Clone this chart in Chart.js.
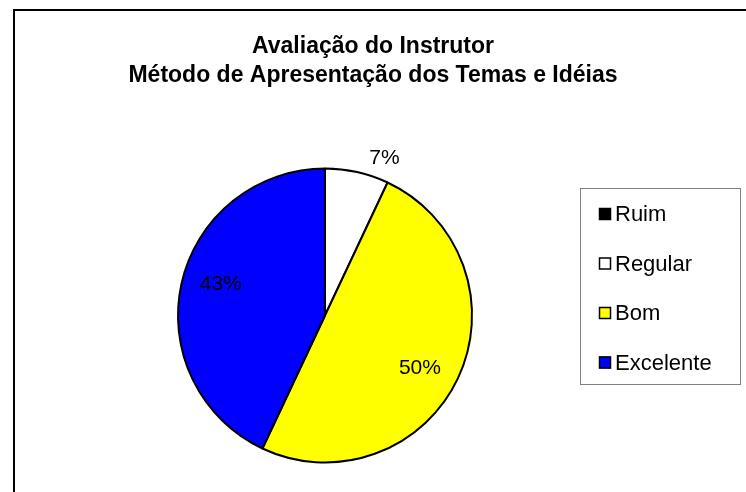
<!DOCTYPE html>
<html>
<head>
<meta charset="utf-8">
<script src="https://cdn.jsdelivr.net/npm/chart.js@4.4.0/dist/chart.umd.min.js"></script>
<style>
    html, body { margin: 0; padding: 0; background: #ffffff; }
    #grafico { display: block; }
</style>
</head>
<body>
<canvas id="grafico" width="746" height="492"></canvas>
<script>
const tituloLinhas = ['Avaliação do Instrutor', 'Método de Apresentação dos Temas e Idéias'];
const categorias = ['Ruim', 'Regular', 'Bom', 'Excelente'];
const percentuais = [0, 7, 50, 43];
const cores = ['#000000', '#ffffff', '#ffff00', '#0000ff'];

const fonte = 'Arial, "Liberation Sans", sans-serif';

// moldura, titulo, legenda e rotulos desenhados a mao (estilo Excel)
const pluginExcel = {
    id: 'estiloExcel',
    afterDraw(chart) {
        const ctx = chart.ctx;
        ctx.save();

        // moldura (so aparecem topo e esquerda)
        ctx.strokeStyle = '#000000';
        ctx.lineWidth = 2;
        ctx.strokeRect(14, 10, 760, 520);

        // titulo
        ctx.fillStyle = '#000000';
        ctx.font = 'bold 23px ' + fonte;
        ctx.textAlign = 'center';
        ctx.textBaseline = 'middle';
        tituloLinhas.forEach((linha, i) => ctx.fillText(linha, 373, 47 + i * 29));

        // rotulos de porcentagem
        const meta = chart.getDatasetMeta(0);
        const total = percentuais.reduce((a, b) => a + b, 0);
        ctx.font = '21px ' + fonte;
        meta.data.forEach((arco, i) => {
            const valor = percentuais[i];
            if (!valor) return;
            const p = arco.getProps(['x', 'y', 'startAngle', 'endAngle', 'outerRadius'], true);
            const meio = (p.startAngle + p.endAngle) / 2;
            const texto = Math.round(valor / total * 100) + '%';
            if (valor / total < 0.1) {
                const r = p.outerRadius + 10;
                ctx.textAlign = 'left';
                ctx.textBaseline = 'bottom';
                ctx.fillText(texto, p.x + Math.cos(meio) * r + 10, p.y + Math.sin(meio) * r + 6);
            } else {
                const r = p.outerRadius * 0.74;
                const a = meio + 0.07; // Excel desloca um pouco no sentido horario
                ctx.textAlign = 'center';
                ctx.textBaseline = 'middle';
                ctx.fillText(texto, p.x + Math.cos(a) * r, p.y + Math.sin(a) * r);
            }
        });

        // legenda
        ctx.strokeStyle = '#808080';
        ctx.lineWidth = 1;
        ctx.strokeRect(580.5, 188.5, 160, 196);
        ctx.font = '22px ' + fonte;
        ctx.textAlign = 'left';
        ctx.textBaseline = 'middle';
        categorias.forEach((nome, i) => {
            const y = 214 + i * 49.5;
            ctx.fillStyle = cores[i];
            ctx.fillRect(599, y - 6, 12, 12);
            ctx.strokeStyle = '#000000';
            ctx.lineWidth = 1.5;
            ctx.strokeRect(599.5, y - 5.5, 11, 11);
            ctx.fillStyle = '#000000';
            ctx.fillText(nome, 615, y + 1);
        });

        ctx.restore();
    }
};

new Chart(document.getElementById('grafico'), {
    type: 'pie',
    data: {
        labels: categorias,
        datasets: [{
            data: percentuais,
            backgroundColor: cores,
            borderColor: '#000000',
            borderWidth: 2,
            radius: 147
        }]
    },
    options: {
        responsive: false,
        animation: false,
        layout: { padding: { left: 0, right: 96, top: 139, bottom: 0 } },
        plugins: {
            legend: { display: false },
            title: { display: false },
            tooltip: { enabled: false }
        }
    },
    plugins: [pluginExcel]
});
</script>
</body>
</html>
